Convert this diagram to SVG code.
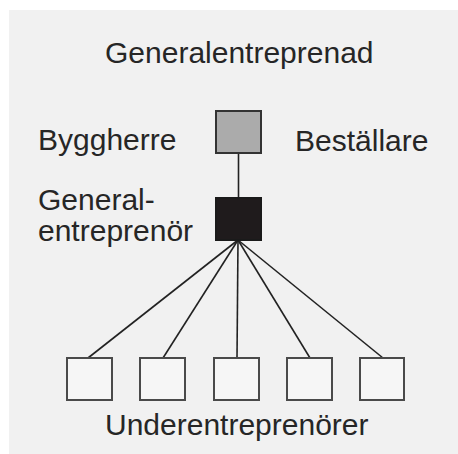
<svg xmlns="http://www.w3.org/2000/svg" width="458" height="454" viewBox="0 0 458 454">
<style>
text{font-family:"Liberation Sans",Arial,sans-serif;font-size:30px;fill:#262626}
.sub{fill:#f6f6f6;stroke:#4a4a4a;stroke-width:2}
.c{stroke:#222;stroke-width:1.6;fill:none}
</style>
<rect x="0" y="0" width="458" height="454" fill="#ffffff"/>
<rect x="9" y="10" width="449" height="444" fill="#f1f1f1"/>
<text x="105" y="63">Generalentreprenad</text>
<text x="38" y="150">Byggherre</text>
<text x="295" y="151">Beställare</text>
<text x="38" y="210">General-</text>
<text x="38" y="241">entreprenör</text>
<text x="105" y="435">Underentreprenörer</text>
<g id="connectors">
<line class="c" x1="238.5" y1="153" x2="238.5" y2="197"/>
<line class="c" x1="238" y1="240" x2="88" y2="358"/>
<line class="c" x1="238" y1="240" x2="163" y2="358"/>
<line class="c" x1="238" y1="240" x2="237" y2="358"/>
<line class="c" x1="238" y1="240" x2="310" y2="358"/>
<line class="c" x1="238" y1="240" x2="383" y2="358"/>
</g>
<g id="byggherre"><rect x="216" y="111" width="45" height="42" fill="#ababab" stroke="#333" stroke-width="2"/></g>
<g id="generalentreprenor"><rect x="216" y="198" width="45" height="42" fill="#1f1b1c" stroke="#1a1a1a" stroke-width="2"/></g>
<g id="ue1"><rect class="sub" x="67" y="358" width="45" height="42"/></g>
<g id="ue2"><rect class="sub" x="140" y="358" width="45" height="42"/></g>
<g id="ue3"><rect class="sub" x="214" y="358" width="45" height="42"/></g>
<g id="ue4"><rect class="sub" x="287" y="358" width="45" height="42"/></g>
<g id="ue5"><rect class="sub" x="360" y="358" width="44" height="42"/></g>
</svg>
